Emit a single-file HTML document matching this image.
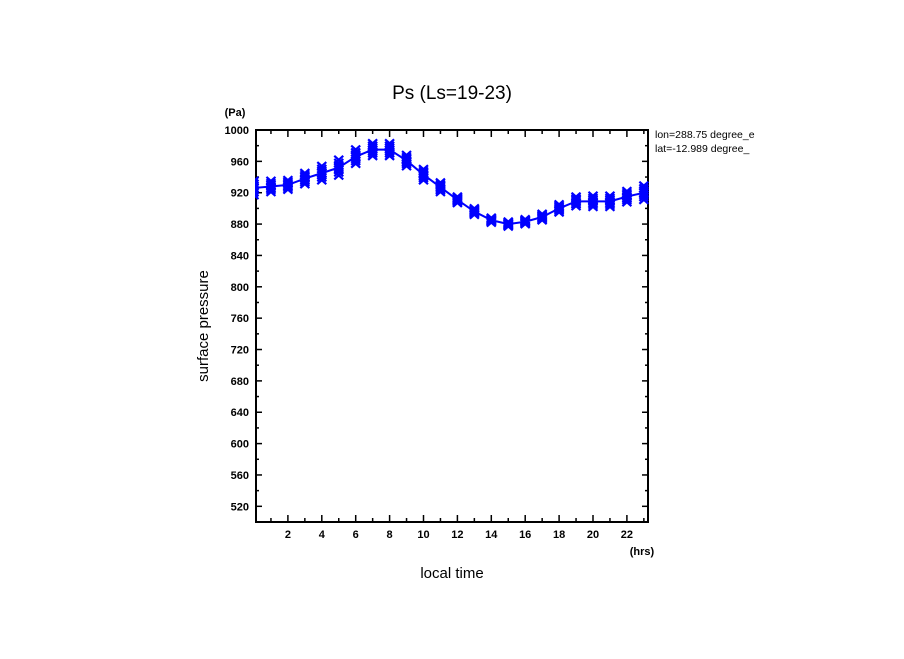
<!DOCTYPE html>
<html><head><meta charset="utf-8"><style>
body{margin:0;background:#fff}
svg text{font-family:"Liberation Sans",sans-serif;fill:#000}
</style></head><body>
<svg id="c" width="904" height="654" viewBox="0 0 904 654">
<defs><clipPath id="pc"><rect x="255" y="129" width="395" height="394"/></clipPath></defs>
<rect width="904" height="654" fill="#fff"/>
<text x="452" y="99" font-size="19" text-anchor="middle">Ps (Ls=19-23)</text>
<text x="235" y="116" font-size="11" font-weight="bold" text-anchor="middle">(Pa)</text>
<text x="642" y="555" font-size="11" font-weight="bold" text-anchor="middle">(hrs)</text>
<text x="452" y="578" font-size="15" text-anchor="middle">local time</text>
<text x="0" y="0" font-size="15" text-anchor="middle" transform="translate(208,326) rotate(-90)">surface pressure</text>
<text x="655" y="138" font-size="10.5">lon=288.75 degree_e</text>
<text x="655" y="152" font-size="10.5">lat=-12.989 degree_</text>
<rect x="778" y="128" width="30" height="30" fill="#fff"/>
<g id="axes"></g>
<g id="marks" clip-path="url(#pc)"></g>
</svg>
<script>
const hours=[0,1,2,3,4,5,6,7,8,9,10,11,12,13,14,15,16,17,18,19,20,21,22,23];
const meanPs=[926,928,930,938,945,952,966,975,975,961,943,927,911,896,885,880,883,889,900,909,909,909,915,920];
const spreadPs=[9,7,6,7,9,10,9,8,8,7,7,6,4,4,3,3,3,4,5,6,7,7,7,9];
const yTicks=[520,560,600,640,680,720,760,800,840,880,920,960,1000];
const xTicks=[2,4,6,8,10,12,14,16,18,20,22];
const NS='http://www.w3.org/2000/svg';
const L=256,R=648,T=130,B=522;
function sx(h){return 254+16.95*h;}
function sy(p){return B-(p-500)*(B-T)/500;}
function mk(tag,attrs,parent){const e=document.createElementNS(NS,tag);for(const k in attrs)e.setAttribute(k,attrs[k]);parent.appendChild(e);return e;}
const ax=document.getElementById('axes'),mg=document.getElementById('marks');
const frame=mk('rect',{x:L,y:T,width:R-L,height:B-T,fill:'none',stroke:'#000','stroke-width':2},ax);


for(let p=500;p<=1000;p+=20){const y=sy(p),len=(p%40===0)?6:3;
 mk('line',{x1:L,x2:L+len,y1:y,y2:y,stroke:'#000','stroke-width':1.5},ax);
 mk('line',{x1:R,x2:R-len,y1:y,y2:y,stroke:'#000','stroke-width':1.5},ax);}
yTicks.forEach(v=>{const t=mk('text',{x:249,y:sy(v)+4,'font-size':11,'font-weight':'bold','text-anchor':'end'},ax);t.textContent=v;
 
 });
for(let h=1;h<=23;h++){const x=sx(h),len=(h%2===0)?7:4;
 mk('line',{x1:x,x2:x,y1:B,y2:B-len,stroke:'#000','stroke-width':1.5},ax);
 mk('line',{x1:x,x2:x,y1:T,y2:T+len,stroke:'#000','stroke-width':1.5},ax);}
xTicks.forEach(v=>{const t=mk('text',{x:sx(v),y:538,'font-size':11,'font-weight':'bold','text-anchor':'middle'},ax);t.textContent=v;
 
 });
const line=mk('polyline',{points:hours.map((h,i)=>sx(h)+','+sy(meanPs[i])).join(' '),fill:'none',stroke:'#0000ff','stroke-width':2},mg);


const fr=[-1,-0.6,-0.3,0,0.3,0.6,1];
hours.forEach((h,i)=>{fr.forEach(f=>{const x=sx(h),y=sy(meanPs[i]+f*spreadPs[i]);
 const g=mk('path',{d:`M${x-4.5},${y-4}L${x+4.5},${y+4}M${x+4.5},${y-4}L${x-4.5},${y+4}`,stroke:'#0000ff','stroke-width':2.2,fill:'none'},mg);
 
 });});
</script>
</body></html>
